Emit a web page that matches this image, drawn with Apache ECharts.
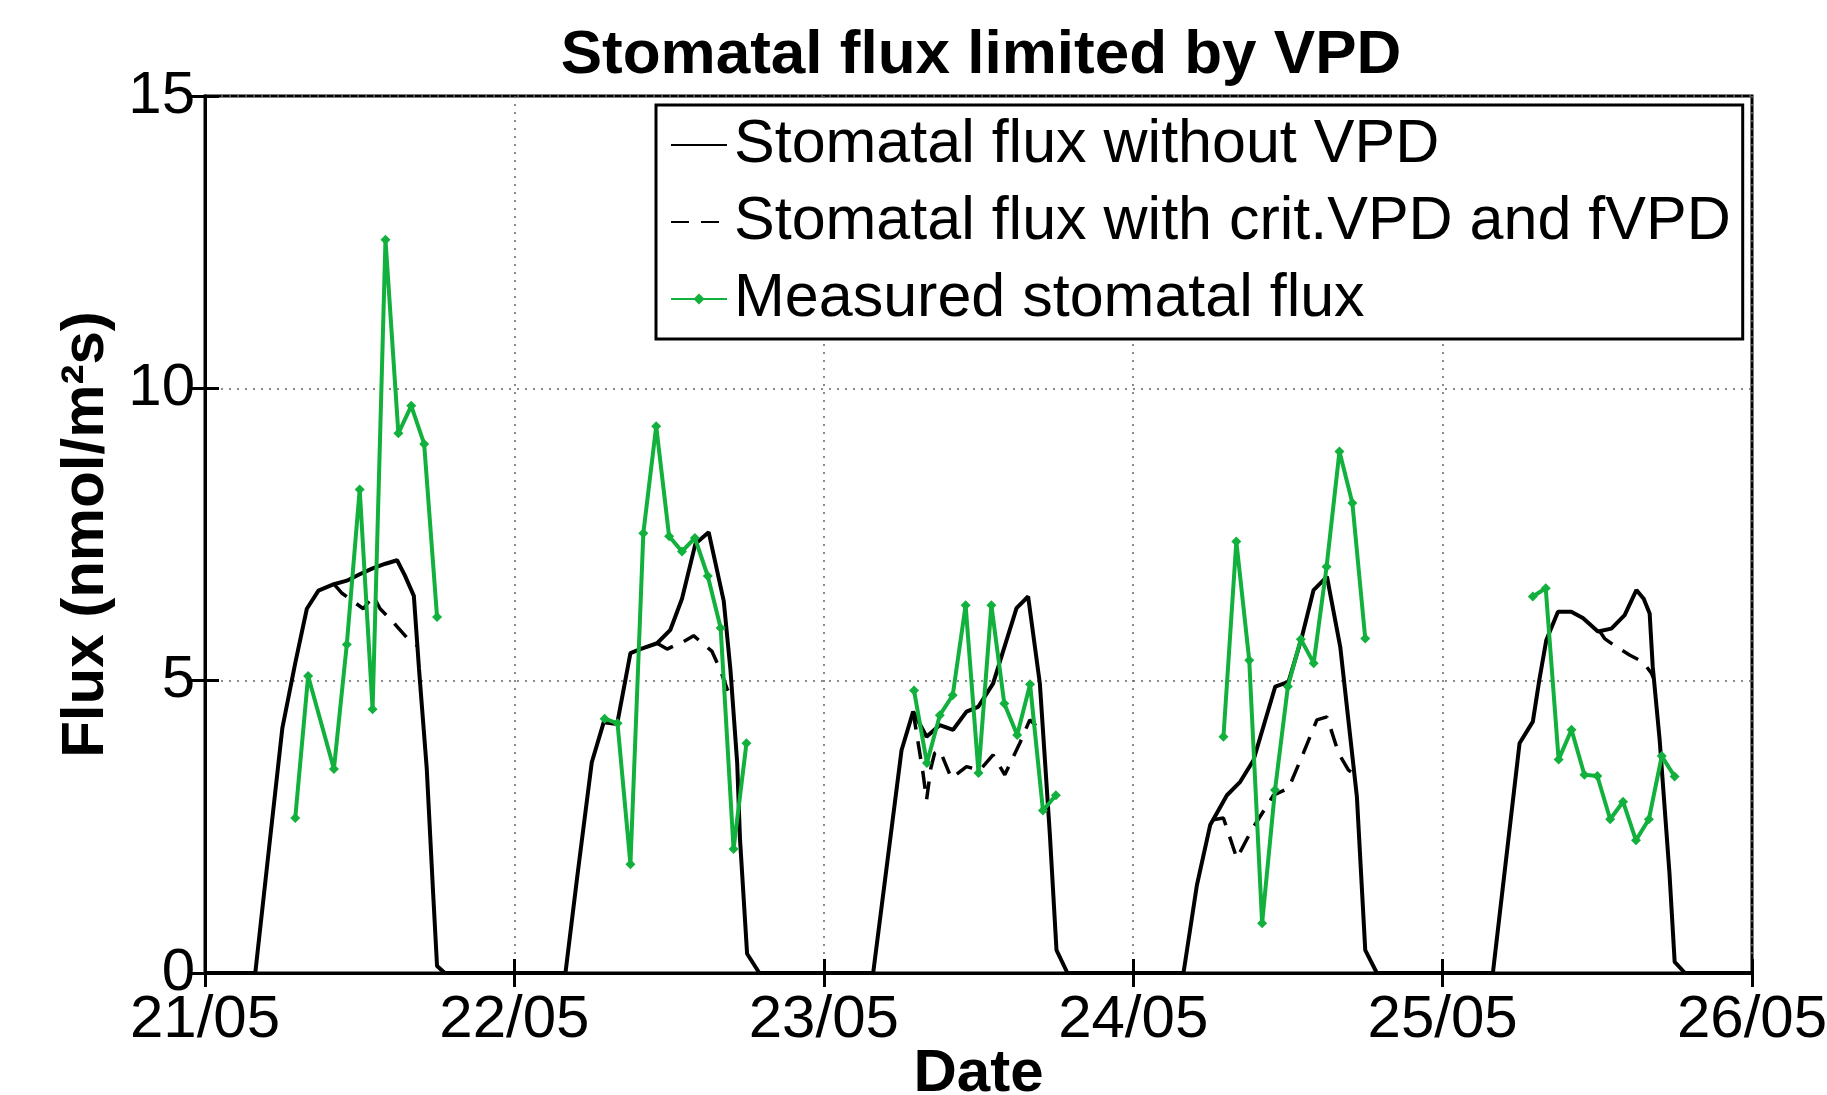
<!DOCTYPE html>
<html>
<head>
<meta charset="utf-8">
<title>Stomatal flux limited by VPD</title>
<script src="https://cdn.jsdelivr.net/npm/echarts@6/dist/echarts.min.js"></script>
<style>
  html, body { margin: 0; padding: 0; background: #fff; }
  #chart { width: 1827px; height: 1095px; }
</style>
</head>
<body>
<div id="chart"></div>
<script>
// tick labels of the date axis (one per day, 24 h apart)
const dateLabels = ['21/05', '22/05', '23/05', '24/05', '25/05', '26/05'];

// [hour of day, flux], one list per day
const noVpdDays = [
  [[0, 0], [3.9, 0], [5, 2.2], [6, 4.19], [7, 5.3], [7.9, 6.23], [8.8, 6.54], [10, 6.65], [11, 6.71], [12, 6.82], [13, 6.92], [14, 7.0], [14.9, 7.06], [15.5, 6.8], [16.2, 6.45], [16.6, 5.2], [17.2, 3.5], [17.7, 1.35], [18, 0.12], [18.6, 0]],
  [[3.96, 0], [4.86, 1.62], [6, 3.6], [6.93, 4.29], [7.97, 4.26], [9, 5.47], [9.77, 5.54], [11.07, 5.64], [12.1, 5.87], [13, 6.4], [14.04, 7.34], [15.07, 7.54], [16.24, 6.36], [16.76, 5.18], [17.28, 3.6], [17.5, 2.29], [18.05, 0.33], [19, 0]],
  [[3.83, 0], [6.03, 3.81], [6.93, 4.47], [7.97, 4.04], [9, 4.24], [10.03, 4.16], [11.07, 4.47], [11.97, 4.55], [13.13, 4.95], [14.95, 6.24], [15.85, 6.44], [16.76, 4.95], [17.53, 2.39], [18.05, 0.39], [18.9, 0]],
  [[3.9, 0], [4.94, 1.5], [5.97, 2.53], [7.27, 3.04], [8.3, 3.27], [9.33, 3.64], [11.02, 4.9], [12.05, 4.98], [13.09, 5.75], [13.99, 6.55], [15.03, 6.78], [16.06, 5.58], [17.35, 3.02], [18, 0.39], [18.9, 0]],
  [[3.9, 0], [5.97, 3.93], [7, 4.3], [7.5, 5.01], [8.04, 5.69], [8.95, 6.18], [9.98, 6.18], [10.88, 6.07], [12.05, 5.84], [13.09, 5.89], [14.12, 6.12], [15.03, 6.55], [15.6, 6.4], [16.06, 6.15], [16.3, 5.24], [16.84, 3.98], [17.6, 1.7], [18, 0.19], [18.8, 0], [24, 0]]
];

// dashed model: only the parts that leave the solid line
const critVpdDays = [
  [[10, 6.65], [10.6, 6.5], [12.28, 6.23], [13.06, 6.45], [13.58, 6.23], [14.35, 6.06], [15.77, 5.71], [16.45, 5.6]],
  [[11.07, 5.64], [11.84, 5.54], [13.13, 5.67], [13.9, 5.77], [15.33, 5.5], [15.98, 5.18], [16.5, 4.86], [16.95, 4.7]],
  [[6.93, 4.47], [7.2, 4.1], [7.7, 3.41], [7.97, 2.96], [8.3, 3.5], [8.6, 3.76], [9, 3.81], [9.9, 3.33], [11.07, 3.53], [12.1, 3.47], [13.13, 3.73], [14.04, 3.39], [15.2, 3.93], [15.98, 4.33], [16.6, 4.2], [17, 4.15]],
  [[6.2, 2.62], [7, 2.65], [8.04, 1.96], [9.2, 2.45], [10.88, 3.04], [12.05, 3.16], [13.2, 3.76], [14.25, 4.33], [15.03, 4.38], [15.93, 3.76], [16.7, 3.47], [17.15, 3.4]],
  [[12.2, 5.84], [12.57, 5.72], [13.47, 5.58], [14.5, 5.44], [15.54, 5.32], [16.19, 5.13], [16.35, 5.05]]
];

// measured stomatal flux, hourly
const measuredDays = [
  [[7, 2.65], [8, 5.08], [10, 3.49], [11, 5.62], [12, 8.27], [13, 4.51], [14, 12.54], [15, 9.23], [16, 9.7], [17, 9.05], [18, 6.09]],
  [[7, 4.35], [8, 4.27], [9, 1.86], [10, 7.52], [11, 9.35], [12, 7.47], [13, 7.21], [14, 7.44], [15, 6.79], [16, 5.9], [17, 2.12], [18, 3.93]],
  [[7, 4.83], [8, 3.59], [9, 4.41], [10, 4.75], [11, 6.29], [12, 3.42], [13, 6.29], [14, 4.61], [15, 4.07], [16, 4.94], [17, 2.78], [18, 3.04]],
  [[7, 4.04], [8, 7.38], [9, 5.35], [10, 0.85], [11, 3.13], [12, 4.9], [13, 5.71], [14, 5.3], [15, 6.95], [16, 8.92], [17, 8.04], [18, 5.72]],
  [[7, 6.44], [8, 6.58], [9, 3.65], [10, 4.16], [11, 3.39], [12, 3.37], [13, 2.63], [14, 2.93], [15, 2.27], [16, 2.63], [17, 3.71], [18, 3.36]]
];

// put the days one after another on an hour axis; null breaks between days
function joinDays(days, breakDays) {
  const out = [];
  days.forEach((day, d) => {
    if (breakDays && d > 0) out.push(null);
    day.forEach(p => out.push([p[0] + 24 * d, p[1]]));
  });
  return out;
}

const FONT = 'Liberation Sans, Arial, Helvetica, sans-serif';
const GREEN = '#12b03c';

const chart = echarts.init(document.getElementById('chart'));

const sideAxis = {
  min: 0,
  axisLine: { show: true, lineStyle: { color: '#000', width: 3 } },
  axisTick: { show: true, inside: true, length: 14, lineStyle: { color: '#000', width: 3 } },
  axisLabel: { show: false },
  splitLine: { show: false }
};

chart.setOption({
  animation: false,
  backgroundColor: '#fff',
  title: {
    text: 'Stomatal flux limited by VPD',
    left: 976,
    textAlign: 'center',
    top: 20,
    textStyle: { fontFamily: FONT, fontSize: 62, fontWeight: 'bold', color: '#000' }
  },
  grid: {
    left: 205, right: 75, top: 96, bottom: 122,
    outerBoundsMode: 'none',
    show: true, borderColor: '#000', borderWidth: 3, backgroundColor: 'transparent'
  },
  legend: {
    data: [
      { name: 'Stomatal flux without VPD', itemStyle: { opacity: 0 } },
      { name: 'Stomatal flux with crit.VPD and fVPD', itemStyle: { opacity: 0 } },
      { name: 'Measured stomatal flux' }
    ],
    orient: 'vertical',
    left: 656,
    top: 105,
    padding: [8, 12, 8, 14],
    itemGap: 13,
    itemWidth: 56,
    itemHeight: 14,
    backgroundColor: '#fff',
    borderColor: '#000',
    borderWidth: 3,
    textStyle: { fontFamily: FONT, fontSize: 61, color: '#000', lineHeight: 64, padding: [0, 0, 0, 2] }
  },
  xAxis: [{
    type: 'value',
    min: 0, max: 120, interval: 24,
    name: 'Date',
    nameLocation: 'middle',
    nameGap: 71,
    nameMoveOverlap: false,
    nameTextStyle: { fontFamily: FONT, fontSize: 60, fontWeight: 'bold', color: '#000' },
    axisLine: { show: true, onZero: false, lineStyle: { color: '#000', width: 3 } },
    axisTick: { show: true, inside: true, length: 14, lineStyle: { color: '#000', width: 3 } },
    axisLabel: {
      fontFamily: FONT, fontSize: 60, color: '#000', margin: 17,
      formatter: v => dateLabels[Math.round(v / 24)]
    },
    splitLine: { show: true, lineStyle: { color: '#666', type: [2, 6], width: 1.5 } }
  }, Object.assign({}, sideAxis, { type: 'value', position: 'top', max: 120, interval: 24 })],
  yAxis: [{
    type: 'value',
    min: 0, max: 15, interval: 5,
    name: 'Flux (nmol/m²s)',
    nameLocation: 'middle',
    nameGap: 89,
    nameMoveOverlap: false,
    nameTextStyle: { fontFamily: FONT, fontSize: 60, fontWeight: 'bold', color: '#000' },
    axisLine: { show: true, lineStyle: { color: '#000', width: 3 } },
    axisTick: { show: true, inside: true, length: 14, lineStyle: { color: '#000', width: 3 } },
    axisLabel: { fontFamily: FONT, fontSize: 60, color: '#000', margin: 10 },
    splitLine: { show: true, lineStyle: { color: '#666', type: [2, 6], width: 1.5 } }
  }, Object.assign({}, sideAxis, { type: 'value', position: 'right', max: 15, interval: 5 })],
  series: [
    {
      name: 'Stomatal flux with crit.VPD and fVPD',
      type: 'line',
      data: joinDays(critVpdDays, true),
      connectNulls: false,
      symbol: 'none',
      lineStyle: { color: '#000', width: 3.5, type: [18, 12] },
      itemStyle: { color: '#000' },
      z: 2
    },
    {
      name: 'Stomatal flux without VPD',
      type: 'line',
      data: joinDays(noVpdDays, false),
      symbol: 'none',
      lineStyle: { color: '#000', width: 4 },
      itemStyle: { color: '#000' },
      z: 3
    },
    {
      name: 'Measured stomatal flux',
      type: 'line',
      data: joinDays(measuredDays, true),
      connectNulls: false,
      symbol: 'diamond',
      symbolSize: 10,
      lineStyle: { color: GREEN, width: 4 },
      itemStyle: { color: GREEN },
      z: 4
    }
  ]
});
</script>
</body>
</html>
